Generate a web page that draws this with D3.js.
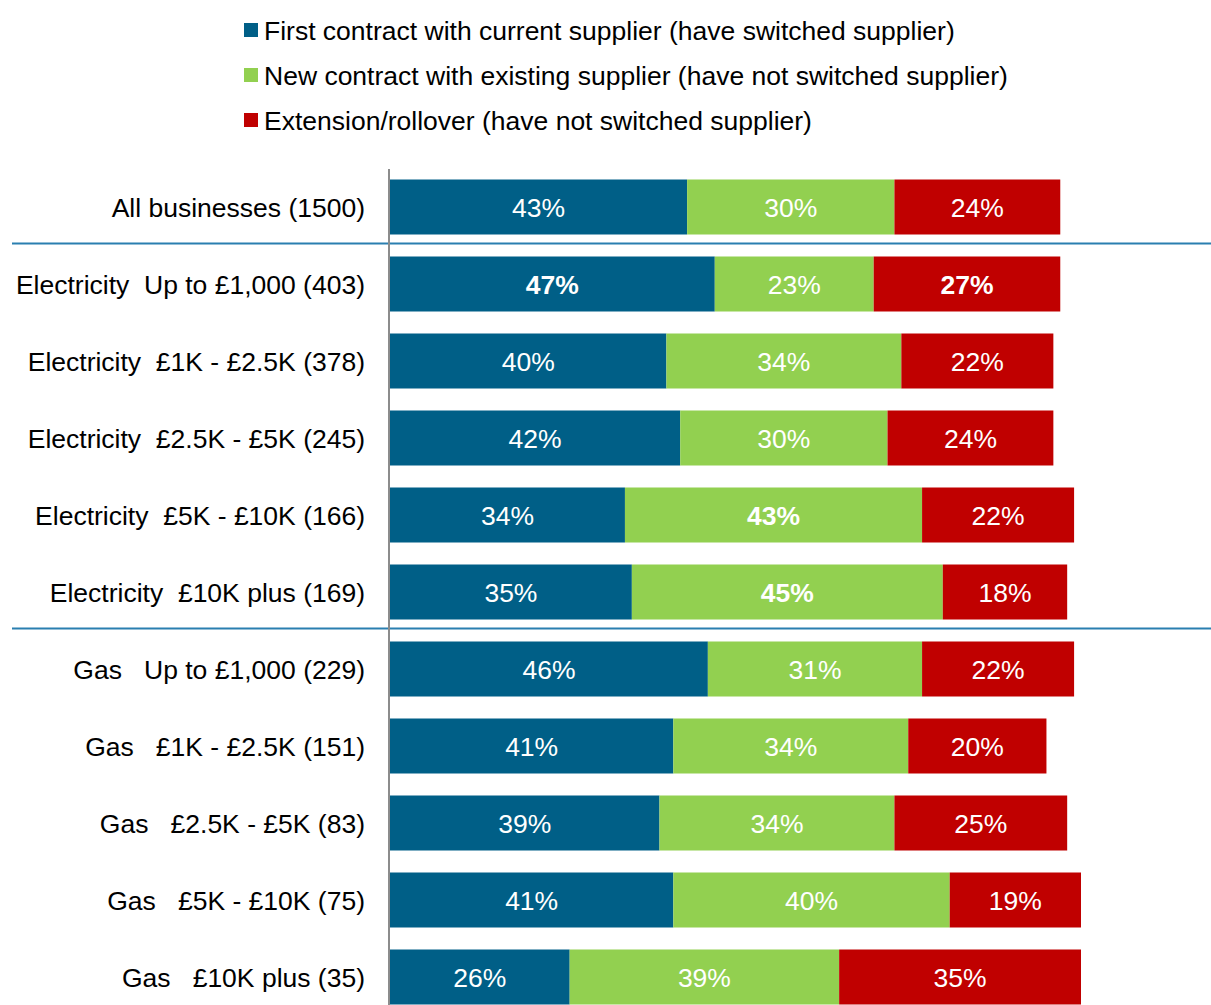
<!DOCTYPE html>
<html>
<head>
<meta charset="utf-8">
<script src="https://cdnjs.cloudflare.com/ajax/libs/d3/7.8.5/d3.min.js"></script>
<style>
  body { margin: 0; background: #fff; }
  svg { display: block; font-family: "Liberation Sans", Arial, sans-serif; }
</style>
</head>
<body>
<div id="chart"></div>
<script>
// row labels, top to bottom
var categories = [
  "All businesses (1500)",
  "Electricity  Up to \u00a31,000 (403)",
  "Electricity  \u00a31K - \u00a32.5K (378)",
  "Electricity  \u00a32.5K - \u00a35K (245)",
  "Electricity  \u00a35K - \u00a310K (166)",
  "Electricity  \u00a310K plus (169)",
  "Gas   Up to \u00a31,000 (229)",
  "Gas   \u00a31K - \u00a32.5K (151)",
  "Gas   \u00a32.5K - \u00a35K (83)",
  "Gas   \u00a35K - \u00a310K (75)",
  "Gas   \u00a310K plus (35)"
];

var seriesNames = [
  "First contract with current supplier (have switched supplier)",
  "New contract with existing supplier (have not switched supplier)",
  "Extension/rollover (have not switched supplier)"
];

var firstContract = [43, 47, 40, 42, 34, 35, 46, 41, 39, 41, 26];
var newContract   = [30, 23, 34, 30, 43, 45, 31, 34, 34, 40, 39];
var extension     = [24, 27, 22, 24, 22, 18, 22, 20, 25, 19, 35];

// which labels are shown in bold (significant difference), per series
var boldFirst = [false, true, false, false, false, false, false, false, false, false, false];
var boldNew   = [false, false, false, false, true, true, false, false, false, false, false];
var boldExt   = [false, true, false, false, false, false, false, false, false, false, false];

// rows after which a divider line is drawn
var dividerAfter = [0, 5];

var colors = ["#005f87", "#92d050", "#c00000"];

var svgWidth = 1211, svgHeight = 1005;
var fontSize = "26.5px";

var svg = d3.select("#chart").append("svg")
  .attr("width", svgWidth)
  .attr("height", svgHeight);

var x = d3.scaleLinear().domain([0, 100]).range([390, 1081]);

var y = d3.scaleBand()
  .domain(categories)
  .range([168.5, 168.5 + 77 * categories.length])
  .paddingInner(22 / 77)
  .paddingOuter(11 / 77);

var series = [firstContract, newContract, extension];
var bolds = [boldFirst, boldNew, boldExt];

var rows = categories.map(function(c, i) {
  var start = 0;
  return series.map(function(s, k) {
    var seg = { cat: c, k: k, x0: start, x1: start + s[i], v: s[i], bold: bolds[k][i] };
    start += s[i];
    return seg;
  });
});
var segs = d3.merge(rows);

// divider lines
svg.append("g").selectAll("line")
  .data(dividerAfter)
  .enter().append("line")
  .attr("x1", 12).attr("x2", svgWidth)
  .attr("y1", d => (y(categories[d]) + y.bandwidth() + y(categories[d + 1])) / 2 - 2)
  .attr("y2", d => (y(categories[d]) + y.bandwidth() + y(categories[d + 1])) / 2 - 2)
  .attr("stroke", "#2a7fb0")
  .attr("stroke-width", 2);

// bars
svg.append("g").selectAll("rect")
  .data(segs)
  .enter().append("rect")
  .attr("x", d => x(d.x0))
  .attr("y", d => y(d.cat))
  .attr("width", d => x(d.x1) - x(d.x0))
  .attr("height", y.bandwidth())
  .attr("fill", d => colors[d.k]);

// value labels
svg.append("g").selectAll("text")
  .data(segs)
  .enter().append("text")
  .attr("x", d => (x(d.x0) + x(d.x1)) / 2)
  .attr("y", d => y(d.cat) + y.bandwidth() / 2)
  .attr("dy", "0.38em")
  .attr("text-anchor", "middle")
  .attr("fill", "#fff")
  .attr("font-size", fontSize)
  .attr("font-weight", d => d.bold ? "bold" : "normal")
  .text(d => d.v + "%");

// vertical axis line
svg.append("line")
  .attr("x1", 389).attr("x2", 389)
  .attr("y1", 169).attr("y2", svgHeight)
  .attr("stroke", "#8c8c8c")
  .attr("stroke-width", 2);

// row labels
svg.append("g").selectAll("text")
  .data(categories)
  .enter().append("text")
  .attr("x", 365)
  .attr("y", d => y(d) + y.bandwidth() / 2)
  .attr("dy", "0.38em")
  .attr("text-anchor", "end")
  .attr("fill", "#000")
  .attr("font-size", fontSize)
  .style("white-space", "pre")
  .attr("xml:space", "preserve")
  .text(d => d);

// legend
var legend = svg.append("g").selectAll("g")
  .data(seriesNames)
  .enter().append("g")
  .attr("transform", (d, i) => `translate(244, ${30 + i * 45})`);

legend.append("rect")
  .attr("x", 0).attr("y", -7)
  .attr("width", 14).attr("height", 14)
  .attr("fill", (d, i) => colors[i]);

legend.append("text")
  .attr("x", 20)
  .attr("dy", "0.36em")
  .attr("font-size", fontSize)
  .attr("fill", "#000")
  .text(d => d);
</script>
</body>
</html>
